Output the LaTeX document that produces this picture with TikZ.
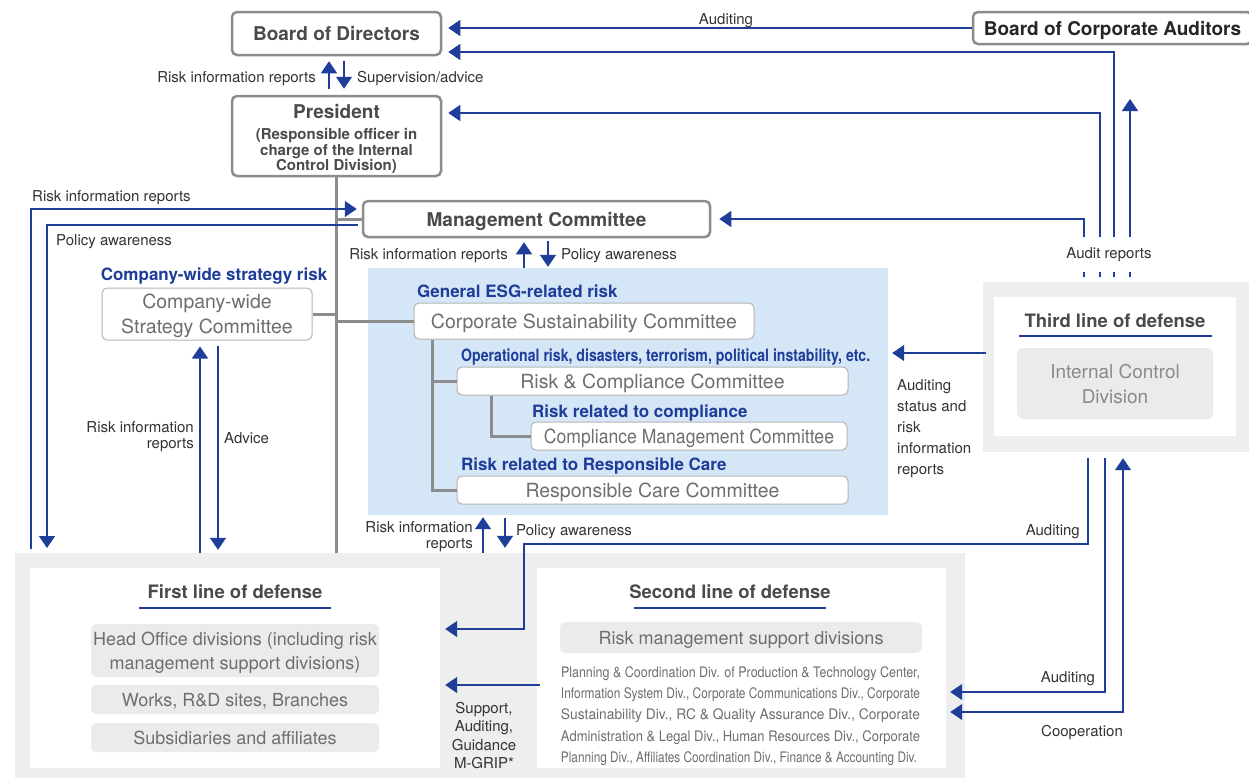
\documentclass[tikz,border=0pt]{standalone}
\usepackage{fontspec}
\setmainfont{TeX Gyre Heros}
\usetikzlibrary{arrows.meta}
\newcommand{\fs}[2]{\fontsize{#1}{#2}\selectfont}
\newcommand{\fw}[2]{\resizebox{#1}{\height}{#2}}
\definecolor{navy}{HTML}{1F3E9A}
\definecolor{gline}{HTML}{8C8C8C}
\definecolor{gbd}{HTML}{B4B4B4}
\definecolor{tdark}{HTML}{4A4A4A}
\definecolor{tcom}{HTML}{6E6E6E}
\definecolor{tlight}{HTML}{8A8A8A}
\definecolor{tlbl}{HTML}{333333}
\definecolor{esgfill}{HTML}{D5E6F7}
\definecolor{panel}{HTML}{EEEEEE}
\definecolor{gfill}{HTML}{EBEBEB}
\definecolor{bluetxt}{HTML}{1F3C99}
\begin{document}
\begin{tikzpicture}[x=1pt,y=-1pt,
  bigbox/.style={draw=gline,line width=2.5pt,rounded corners=5pt,fill=white,inner sep=0pt,text=tdark,font=\bfseries\fs{19}{22},text depth=0pt},
  combox/.style={draw=gbd,line width=1pt,rounded corners=5pt,fill=white,inner sep=0pt,text=tcom,font=\fs{19.5}{25},text depth=0pt},
  gbox/.style={fill=gfill,rounded corners=6pt,inner sep=0pt,text=tcom,font=\fs{18}{24},align=center,text depth=0pt},
  lbl/.style={text=tlbl,font=\fs{15}{16.5},inner sep=0pt,yshift=-1.5pt},
  risk/.style={text=bluetxt,font=\bfseries\fs{17}{20},inner sep=0pt,anchor=west,yshift=-1pt},
  ttl/.style={text=tdark,font=\bfseries\fs{18.5}{22},inner sep=0pt,yshift=-1pt},
  arr/.style={draw=navy,line width=1.4pt,-{Triangle[width=16pt,length=12pt]}},
  arrboth/.style={draw=navy,line width=1.4pt,{Triangle[width=16pt,length=12pt]}-{Triangle[width=16pt,length=12pt]}},
  tree/.style={draw=gline,line width=3pt},
  uline/.style={draw=navy,line width=1.2pt}]
\useasboundingbox (0,0) rectangle (1249,780);
\fill[white] (0,0) rectangle (1249,780);

% panels
\node[fill=esgfill,minimum width=520pt,minimum height=247pt,inner sep=0pt] (esg) at (628,391.5) {};
\node[fill=panel,minimum width=950pt,minimum height=225pt,inner sep=0pt] (low) at (490,665.5) {};
\node[fill=panel,minimum width=269pt,minimum height=170pt,inner sep=0pt] (tl) at (1117.5,367) {};
\node[fill=white,minimum width=242pt,minimum height=139pt,inner sep=0pt] (tlin) at (1115,366.5) {};
\node[fill=white,minimum width=410pt,minimum height=200pt,inner sep=0pt] (first) at (235,668) {};
\node[fill=white,minimum width=409pt,minimum height=200pt,inner sep=0pt] (second) at (741.5,668) {};

% main boxes
\node[bigbox,minimum width=209pt,minimum height=43pt] (bod) at (336.5,33.5) {Board of Directors};
\node[bigbox,minimum width=209pt,minimum height=80pt] (pres) at (336.5,136) {};
\node[text=tdark,font=\bfseries\fs{19}{22},inner sep=0pt,text depth=0pt] (prest) at (336.5,111) {President};
\node[text=tdark,font=\bfseries\fs{15}{15.5},inner sep=0pt,align=center] (presd) at (336.5,151) {(Responsible officer in\\charge of the Internal\\Control Division)};
\node[bigbox,minimum width=347pt,minimum height=36pt] (mc) at (536.5,219) {Management Committee};
\node[bigbox,minimum width=279pt,minimum height=32pt,text=black!85] (bca) at (1112.5,28) {Board of Corporate Auditors};

% committees
\node[risk,anchor=center] (strisk) at (214,275) {Company-wide strategy risk};
\node[combox,minimum width=210pt,minimum height=52pt,align=center] (strat) at (207,314) {Company-wide\\Strategy Committee};
\node[risk] (esgrisk) at (417,290) {General ESG-related risk};
\node[combox,minimum width=340pt,minimum height=36pt] (csc) at (584,321) {Corporate Sustainability Committee};
\node[risk] (oprisk) at (461,356) {\fw{409pt}{Operational risk, disasters, terrorism, political instability, etc.}};
\node[combox,minimum width=391pt,minimum height=28pt] (rcc) at (652.5,381) {Risk \& Compliance Committee};
\node[risk] (comrisk) at (532,412) {Risk related to compliance};
\node[combox,minimum width=316pt,minimum height=28pt] (cmc) at (689,436) {\fw{290pt}{Compliance Management Committee}};
\node[risk] (rcrisk) at (461,465) {Risk related to Responsible Care};
\node[combox,minimum width=391pt,minimum height=28pt] (rcare) at (652.5,490) {Responsible Care Committee};

% third line
\node[ttl] (tlt) at (1115,320) {Third line of defense};
\draw[uline] (1019,336) -- (1212,336);
\node[gbox,minimum width=196pt,minimum height=71pt,text=tlight,font=\fs{19}{25}] (icd) at (1115,383.5) {Internal Control\\Division};

% first line
\node[ttl] (flt) at (235,591) {First line of defense};
\draw[uline] (139,608) -- (331,608);
\node[gbox,minimum width=288pt,minimum height=53pt] (head) at (235,650.5) {Head Office divisions (including risk\\management support divisions)};
\node[gbox,minimum width=288pt,minimum height=29pt] (works) at (235,699.5) {Works, R\&D sites, Branches};
\node[gbox,minimum width=288pt,minimum height=29pt] (subs) at (235,737.5) {Subsidiaries and affiliates};

% second line
\node[ttl] (slt) at (730,591) {Second line of defense};
\draw[uline] (634,608) -- (826,608);
\node[gbox,minimum width=362pt,minimum height=31pt] (rmsd) at (741,637.5) {\fw{285pt}{Risk management support divisions}};
\node[text=tcom,font=\fs{14.5}{21.25},inner sep=0pt,align=left] (para) at (740.5,716)
 {\fw{359pt}{Planning \& Coordination Div. of Production \& Technology Center,}\\
  \fw{359pt}{Information System Div., Corporate Communications Div., Corporate}\\
  \fw{359pt}{Sustainability Div., RC \& Quality Assurance Div., Corporate}\\
  \fw{359pt}{Administration \& Legal Div., Human Resources Div., Corporate}\\
  \fw{356pt}{Planning Div., Affiliates Coordination Div., Finance \& Accounting Div.}};

% gray tree lines
\draw[tree] (pres.south) -- (pres.south |- low.north);
\draw[tree] (pres.south |- mc.west) -- (mc.west);
\draw[tree] (strat.east) -- (pres.south |- strat.east);
\draw[tree] (pres.south |- csc.west) -- (csc.west);
\coordinate (t0) at ([xshift=19pt]csc.south west);
\draw[tree] (t0) |- (rcare.west);
\draw[tree] (t0 |- rcc.west) -- (rcc.west);
\coordinate (t1) at ([xshift=35pt]rcc.south west);
\draw[tree] (t1) |- (cmc.west);

% BoD <-> President
\draw[arr,shorten <=6pt,shorten >=5pt] ([xshift=-7.5pt]pres.north) -- ([xshift=-7.5pt]bod.south);
\draw[arr,shorten <=5pt,shorten >=6pt] ([xshift=7.5pt]bod.south) -- ([xshift=7.5pt]pres.north);
\node[lbl,anchor=east] (l1) at (316,77) {Risk information reports};
\node[lbl,anchor=west] (l2) at (357,77) {Supervision/advice};

% auditors
\draw[arr,shorten >=6pt] (bca.west) -- (bod.east |- bca.west);
\node[lbl] (l3) at (726,19) {Auditing};

% audit reports from third line
\draw[arr,shorten <=5pt,shorten >=8pt] ([xshift=-33.5pt]tl.north) |- (mc.east);
\draw[arr,shorten <=5pt,shorten >=6pt] ([xshift=-17.5pt]tl.north) |- (pres.east |- 0,113);
\draw[arr,shorten <=5pt,shorten >=6pt] ([xshift=-3.5pt]tl.north) |- (bod.east |- 0,52);
\coordinate (up4) at (1130,99);
\draw[arr,shorten <=5pt] ([xshift=12.5pt]tl.north) -- (up4);
\node[lbl,fill=white,inner ysep=10pt,inner xsep=3pt] (audrep) at (1109,253) {Audit reports};

% third -> ESG
\draw[arr,shorten <=-3pt,shorten >=4pt] (tl.west |- 0,353) -- (esg.east |- 0,353);
\node[lbl,anchor=west,align=left,font=\fs{15}{21}] (l4) at (897,427.5) {Auditing\\status and\\risk\\information\\reports};

% third -> first / second
\draw[arr,shorten <=6pt,shorten >=5pt] ([xshift=-29.5pt]tl.south) -- (1088,544) -- (524,544) -- (524,629) -- (first.east |- 0,629);
\node[lbl,anchor=east] (l5) at (1080,530) {Auditing};
\draw[arr,shorten <=6pt,shorten >=4pt] ([xshift=-12.5pt]tl.south) |- (second.east |- 0,692);
\node[lbl] (l6) at (1068,677) {Auditing};
\draw[arrboth,shorten <=6pt,shorten >=4pt] ([xshift=5.5pt]tl.south) |- (second.east |- 0,712);
\node[lbl] (l7) at (1082,731) {Cooperation};

% left loops
\coordinate (ril) at (31,549);
\draw[arr,shorten >=5pt] (ril) |- (mc.west |- 0,209);
\node[lbl,anchor=west] (l8) at (32,196) {Risk information reports};
\coordinate (pal) at (47,548);
\draw[arr,shorten <=4pt] (mc.west |- 0,225) -| (pal);
\node[lbl,anchor=west] (l9) at (56,240) {Policy awareness};

% strategy committee arrows
\draw[arr,shorten >=6pt] (low.north -| 200,0) -- (strat.south -| 200,0);
\draw[arr,shorten <=5pt,shorten >=3pt] (strat.south -| 218,0) -- (low.north -| 218,0);
\node[lbl,anchor=east,align=right] (l10) at (194,435) {Risk information\\reports};
\node[lbl,anchor=west] (l11) at (224,437) {Advice};

% MC <-> ESG
\draw[arr,shorten >=4pt] (esg.north -| 524,0) -- (mc.south -| 524,0);
\draw[arr,shorten <=3pt,shorten >=1pt] (mc.south -| 548,0) -- (esg.north -| 548,0);
\node[lbl,anchor=east] (l12) at (508,254) {Risk information reports};
\node[lbl,anchor=west] (l13) at (561,254) {Policy awareness};

% ESG <-> first line
\draw[arr,shorten >=2pt] (low.north -| 483,0) -- (esg.south -| 483,0);
\draw[arr,shorten <=3pt,shorten >=5pt] (esg.south -| 505,0) -- (low.north -| 505,0);
\node[lbl,anchor=east,align=right] (l14) at (473,535) {Risk information\\reports};
\node[lbl,anchor=west] (l15) at (516,530) {Policy awareness};

% second -> first
\draw[arr,shorten <=-3pt,shorten >=5pt] (second.west |- 0,685) -- (first.east |- 0,685);
\node[lbl,align=center,font=\fs{15}{18.5}] (l16) at (484,734) {Support,\\Auditing,\\Guidance\\M-GRIP*};
\end{tikzpicture}
\end{document}
